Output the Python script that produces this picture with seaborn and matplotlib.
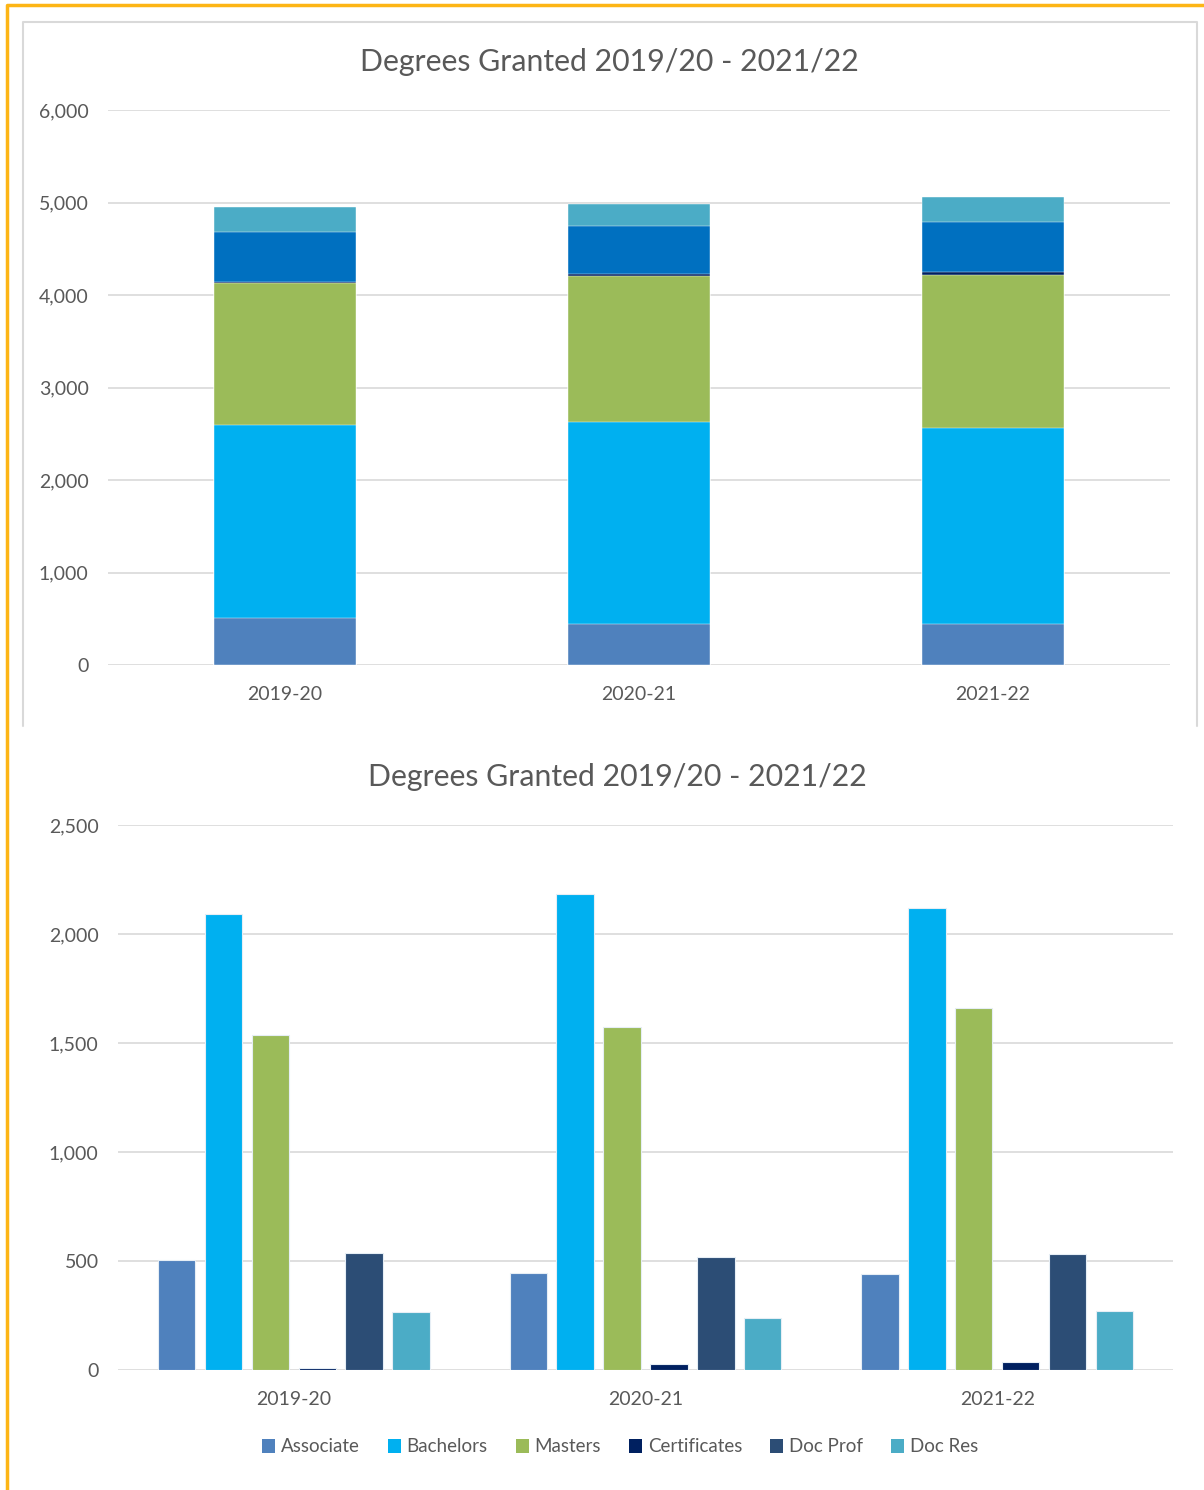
import numpy as np
import pandas as pd
import matplotlib.pyplot as plt
import seaborn as sns
from matplotlib.lines import Line2D
from matplotlib.patches import Patch

# data
years = ["2019-20", "2020-21", "2021-22"]
degrees = ["Associate", "Bachelors", "Masters", "Certificates", "Doc Prof", "Doc Res"]
associate = [504, 446, 440]
bachelors = [2092, 2183, 2119]
masters = [1537, 1573, 1660]
certificates = [10, 29, 35]
doc_prof = [538, 518, 531]
doc_res = [265, 237, 271]

colors_grouped = ["#4F81BD", "#00B0F0", "#9BBB59", "#002060", "#2C4D75", "#4BACC6"]
colors_stacked = ["#4F81BD", "#00B0F0", "#9BBB59", "#002060", "#0070C0", "#4BACC6"]

series = [associate, bachelors, masters, certificates, doc_prof, doc_res]
df = pd.DataFrame({"year": years * len(degrees),
                   "degree": [d for d in degrees for _ in years],
                   "count": [v for s in series for v in s]})

sns.set_theme(style="white")
plt.rcParams["font.family"] = ["Lato", "DejaVu Sans"]
text_col = "#595959"
grid_col = "#D9D9D9"

W, H = 1204, 1490
fig = plt.figure(figsize=(W / 100, H / 100), dpi=100)


def px_axes(left, top, right, bottom):
    return fig.add_axes([left / W, 1 - bottom / H, (right - left) / W, (bottom - top) / H])


def style_axes(ax, ymax, step):
    ax.set_ylim(0, ymax)
    ax.set_yticks(np.arange(0, ymax + 1, step))
    ax.yaxis.set_major_formatter(plt.FuncFormatter(lambda v, p: f"{int(v):,}"))
    ax.grid(axis="y", color=grid_col, linewidth=1.2)
    ax.set_axisbelow(True)
    for s in ax.spines.values():
        s.set_visible(False)
    ax.tick_params(axis="both", length=0, labelsize=14, colors=text_col)
    ax.tick_params(axis="y", pad=14)
    ax.tick_params(axis="x", pad=15)
    ax.set_xlabel("")
    ax.set_ylabel("")


# --- stacked chart
ax1 = px_axes(108, 110, 1170, 665)
cum = np.cumsum(np.array(series), axis=0)
for i in range(len(degrees) - 1, -1, -1):
    sns.barplot(x=years, y=cum[i], color=colors_stacked[i], width=0.4,
                saturation=1, edgecolor="white", linewidth=0.3, ax=ax1)
style_axes(ax1, 6000, 1000)
ax1.set_xlim(-0.5, 2.5)
fig.text(609 / W, 1 - 62 / H, "Degrees Granted 2019/20 - 2021/22", ha="center", va="center",
         fontsize=21.8, color=text_col)

# --- grouped chart
ax2 = px_axes(118, 825, 1173, 1370)
sns.barplot(data=df, x="year", y="count", hue="degree", hue_order=degrees,
            palette=colors_grouped, width=0.8, gap=0.2, saturation=1,
            edgecolor="#E6EEF5", linewidth=0.8, ax=ax2)
style_axes(ax2, 2500, 500)
ax2.set_xlim(-0.5, 2.5)
ax2.get_legend().remove()
fig.text(617 / W, 1 - 777 / H, "Degrees Granted 2019/20 - 2021/22", ha="center", va="center",
         fontsize=21.8, color=text_col)

handles = [Patch(facecolor=c, edgecolor="none") for c in colors_grouped]
fig.legend(handles, degrees, loc="center", bbox_to_anchor=(620 / W, 1 - 1447 / H), ncol=6,
           frameon=False, fontsize=13.5, labelcolor=text_col, handlelength=0.7,
           handleheight=0.7, handletextpad=0.3, columnspacing=1.5)

# frame of the upper panel and orange border
fig.add_artist(Line2D([23 / W, 23 / W, 1197 / W, 1197 / W],
                      [1 - 726 / H, 1 - 22 / H, 1 - 22 / H, 1 - 726 / H],
                      color=grid_col, linewidth=1.5))
fig.add_artist(Line2D([7 / W, 7 / W, 1], [0, 1 - 5 / H, 1 - 5 / H],
                      color="#FDB515", linewidth=2.5))

fig.savefig("out.png", dpi=100)
